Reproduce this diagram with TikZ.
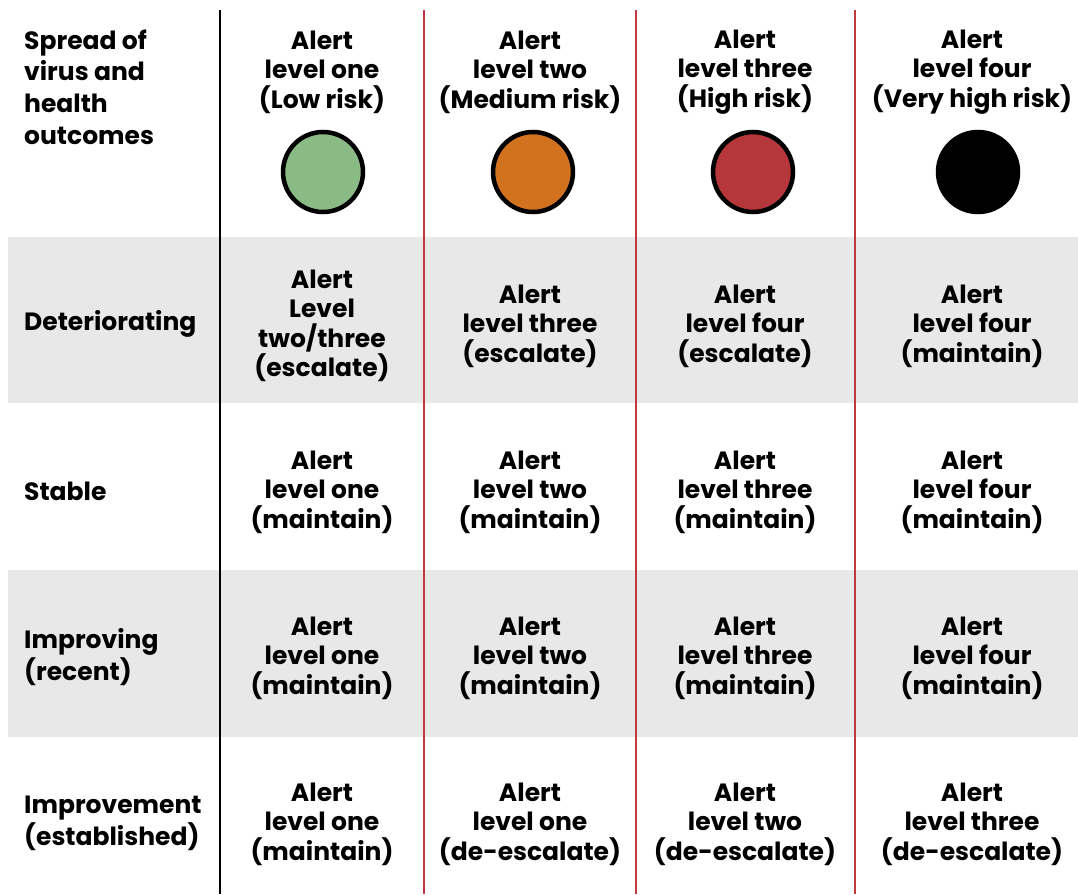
\documentclass[tikz,border=0pt]{standalone}
\usepackage{fontspec}
\setmainfont{Poppins}[UprightFont=* Bold]
\definecolor{bandgray}{HTML}{E8E8E8}
\definecolor{redline}{HTML}{C0393F}
\definecolor{lvlgreen}{HTML}{8BBB84}
\definecolor{lvlorange}{HTML}{D2721E}
\definecolor{lvlred}{HTML}{B5373C}
\tikzset{
  cell/.style={align=center, inner sep=0pt, font=\fontsize{25}{29.5}\selectfont},
  rowlabel/.style={align=left, anchor=west, inner sep=0pt, font=\fontsize{25}{31.7}\selectfont},
  lamp/.style={circle, draw=black, line width=4.5pt, minimum size=80pt, inner sep=0pt},
  band/.style={fill=bandgray, draw=none},
  sepblack/.style={draw=black, line width=1.6pt},
  sepred/.style={draw=redline, line width=1.6pt}
}
\begin{document}
\begin{tikzpicture}[x=1pt,y=-1pt]
\useasboundingbox (0,0) rectangle (1078,894);
% bands
\path[band] (8,237) rectangle (1078,403);
\path[band] (8,570) rectangle (1078,737);
% separators
\draw[sepblack] (220,10) -- (220,894);
\draw[sepred] (424,10) -- (424,894);
\draw[sepred] (636,10) -- (636,894);
\draw[sepred] (855,10) -- (855,894);
% header
\node[rowlabel] (h0) at (24,87) {Spread of\\virus and\\health\\outcomes};
\node[cell] (h1) at (322,72) {Alert\\level one\\(Low risk)};
\node[cell] (h2) at (530,72) {Alert\\level two\\(Medium risk)};
\node[cell] (h3) at (745,72) {Alert\\level three\\(High risk)};
\node[cell] (h4) at (972,72) {Alert\\level four\\(Very high risk)};
\node[lamp, fill=lvlgreen] (c1) at (323,172) {};
\node[lamp, fill=lvlorange] (c2) at (533,172) {};
\node[lamp, fill=lvlred] (c3) at (753,172) {};
\node[lamp, fill=black] (c4) at (978,172) {};
% row 1
\node[rowlabel] (l1) at (24,324) {Deteriorating};
\node[cell] (r1c1) at (322,326) {Alert\\Level\\two/three\\(escalate)};
\node[cell] (r1c2) at (530,326) {Alert\\level three\\(escalate)};
\node[cell] (r1c3) at (745,326) {Alert\\level four\\(escalate)};
\node[cell] (r1c4) at (972,326) {Alert\\level four\\(maintain)};
% row 2
\node[rowlabel] (l2) at (24,491) {Stable};
\node[cell] (r2c1) at (322,492) {Alert\\level one\\(maintain)};
\node[cell] (r2c2) at (530,492) {Alert\\level two\\(maintain)};
\node[cell] (r2c3) at (745,492) {Alert\\level three\\(maintain)};
\node[cell] (r2c4) at (972,492) {Alert\\level four\\(maintain)};
% row 3
\node[rowlabel] (l3) at (24,657) {Improving\\(recent)};
\node[cell] (r3c1) at (322,658) {Alert\\level one\\(maintain)};
\node[cell] (r3c2) at (530,658) {Alert\\level two\\(maintain)};
\node[cell] (r3c3) at (745,658) {Alert\\level three\\(maintain)};
\node[cell] (r3c4) at (972,658) {Alert\\level four\\(maintain)};
% row 4
\node[rowlabel] (l4) at (24,823) {Improvement\\(established)};
\node[cell] (r4c1) at (322,824) {Alert\\level one\\(maintain)};
\node[cell] (r4c2) at (530,824) {Alert\\level one\\(de-escalate)};
\node[cell] (r4c3) at (745,824) {Alert\\level two\\(de-escalate)};
\node[cell] (r4c4) at (972,824) {Alert\\level three\\(de-escalate)};
\end{tikzpicture}
\end{document}
